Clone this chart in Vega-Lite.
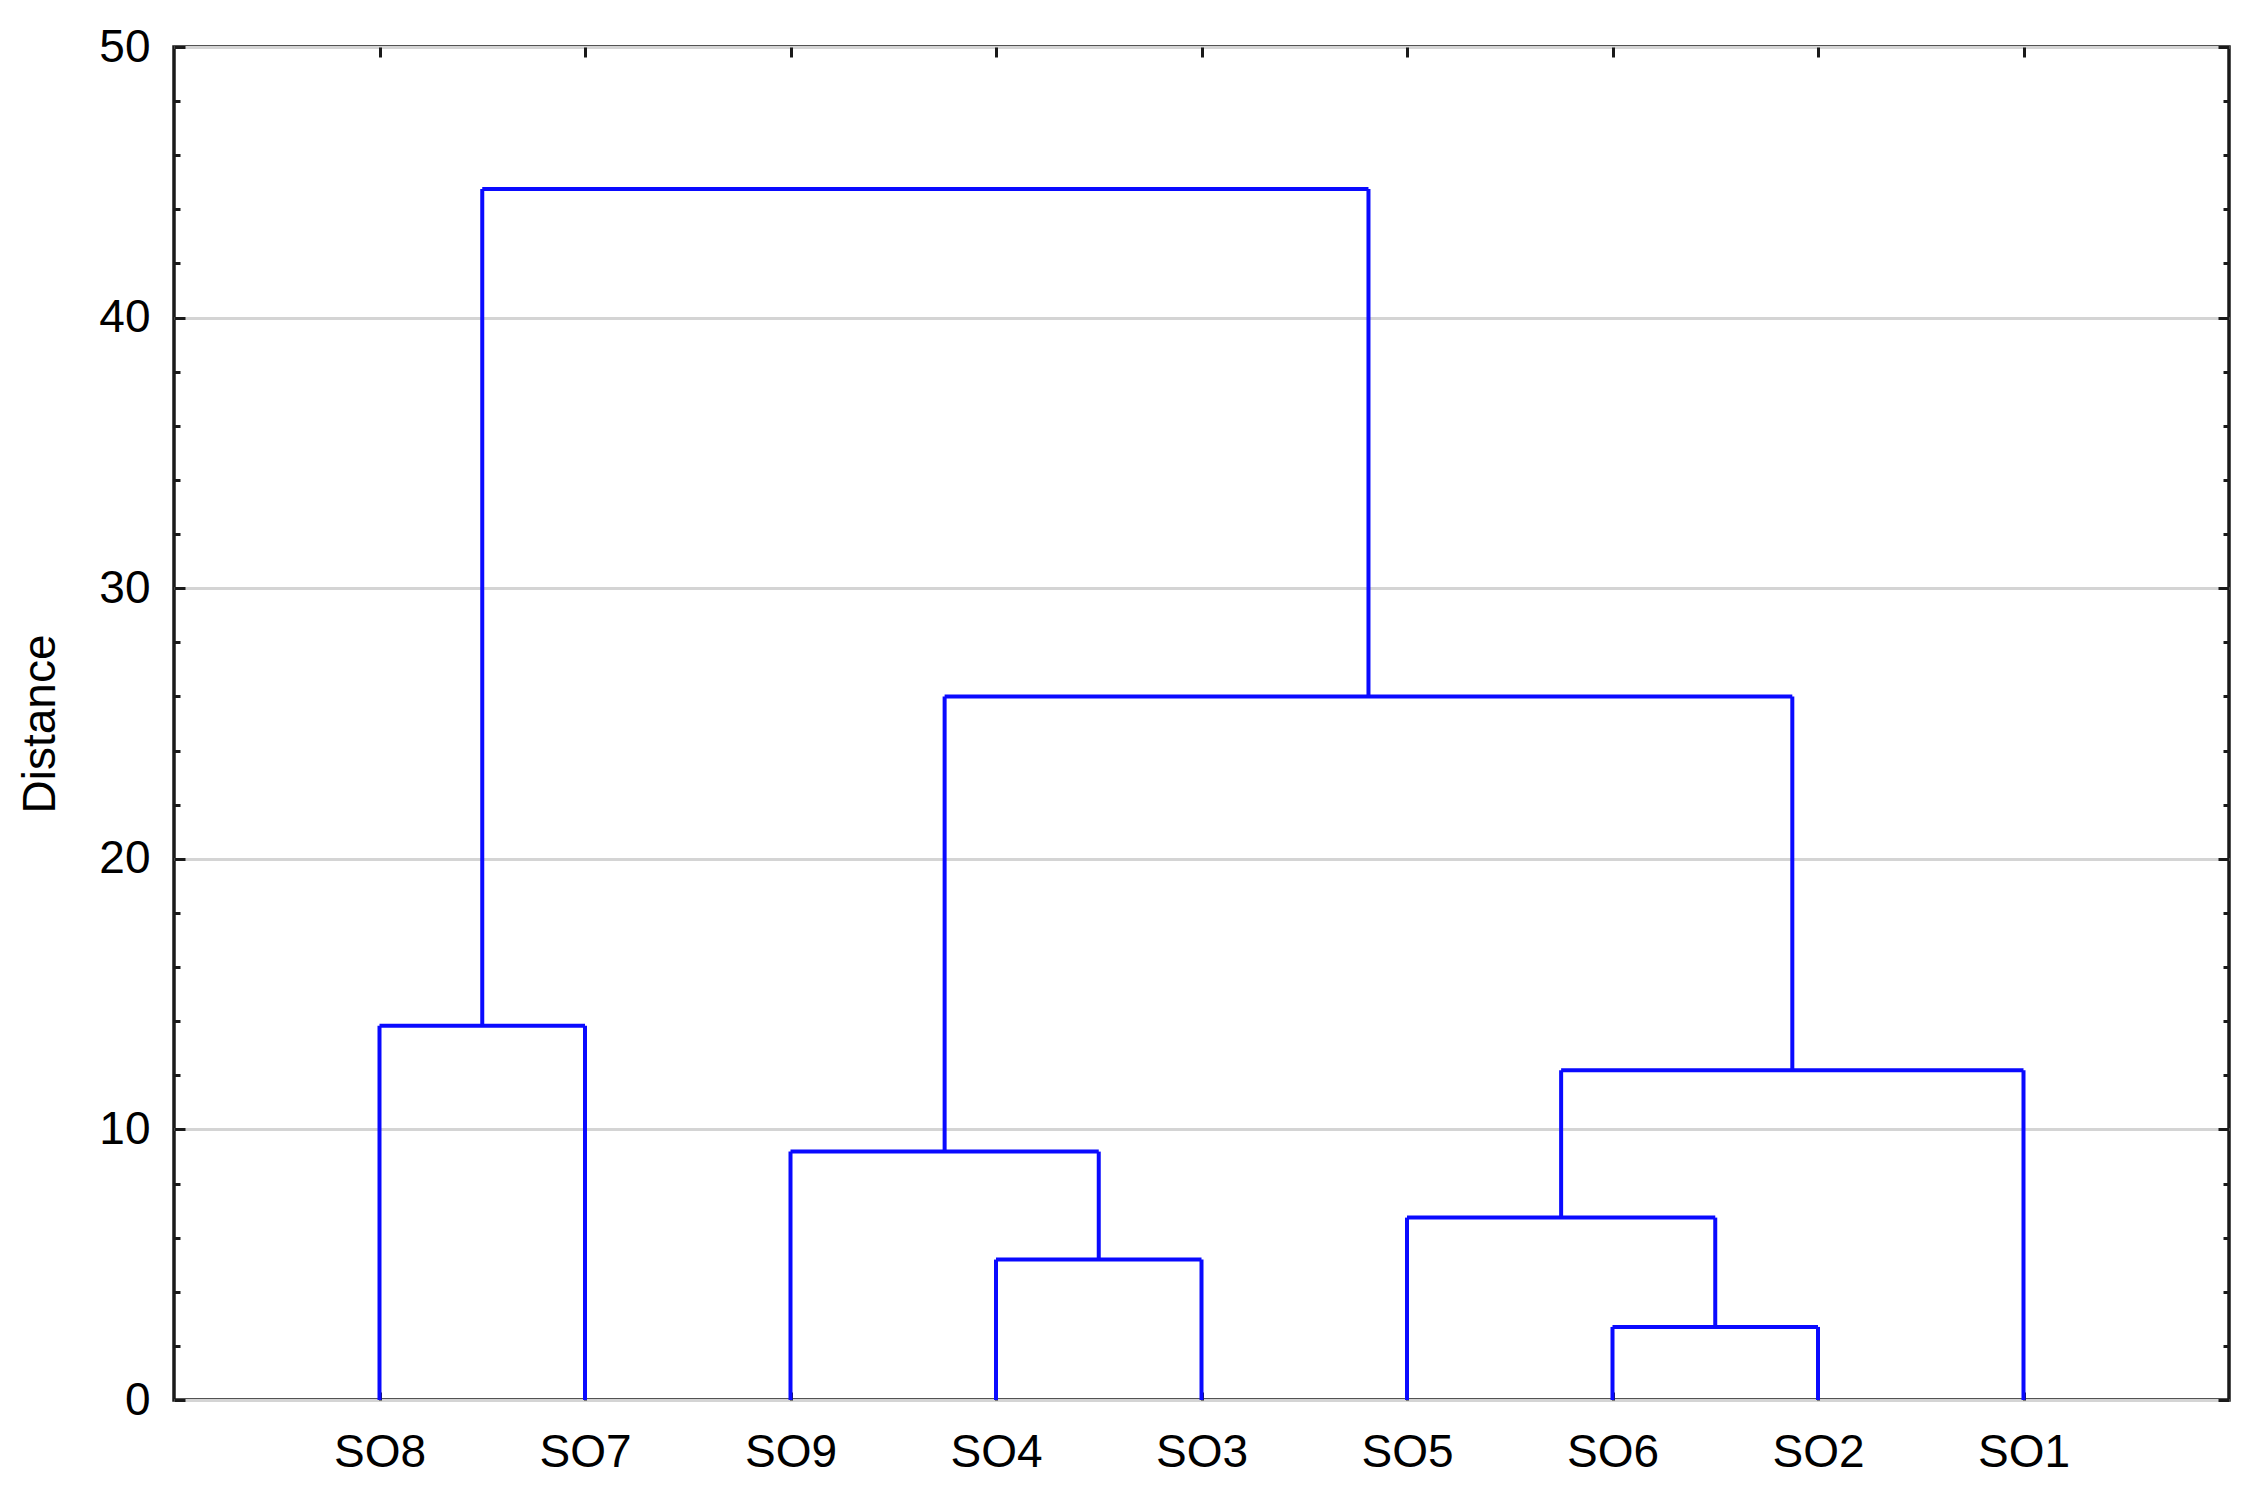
{
  "$schema": "https://vega.github.io/schema/vega-lite/v6.json",
  "width": 2055,
  "height": 1353,
  "autosize": {"type": "none"},
  "padding": {"left": 174, "top": 47, "right": 24, "bottom": 100},
  "background": "white",
  "config": {
    "view": {"stroke": "#1a1a1a", "strokeWidth": 3.5},
    "font": "Liberation Sans",
    "axis": {"labelFont": "Liberation Sans", "titleFont": "Liberation Sans", "labelColor": "#000000", "titleColor": "#000000", "tickColor": "#1a1a1a", "tickWidth": 3}
  },
  "data": {
    "values": [
      {"node": "A", "x": 1, "y": 0, "x2": 1, "y2": 13.83},
      {"node": "A", "x": 2, "y": 0, "x2": 2, "y2": 13.83},
      {"node": "A", "x": 1, "y": 13.83, "x2": 2, "y2": 13.83},
      {"node": "B", "x": 4, "y": 0, "x2": 4, "y2": 5.19},
      {"node": "B", "x": 5, "y": 0, "x2": 5, "y2": 5.19},
      {"node": "B", "x": 4, "y": 5.19, "x2": 5, "y2": 5.19},
      {"node": "C", "x": 3, "y": 0, "x2": 3, "y2": 9.18},
      {"node": "C", "x": 4.5, "y": 5.19, "x2": 4.5, "y2": 9.18},
      {"node": "C", "x": 3, "y": 9.18, "x2": 4.5, "y2": 9.18},
      {"node": "D", "x": 7, "y": 0, "x2": 7, "y2": 2.70},
      {"node": "D", "x": 8, "y": 0, "x2": 8, "y2": 2.70},
      {"node": "D", "x": 7, "y": 2.70, "x2": 8, "y2": 2.70},
      {"node": "E", "x": 6, "y": 0, "x2": 6, "y2": 6.74},
      {"node": "E", "x": 7.5, "y": 2.70, "x2": 7.5, "y2": 6.74},
      {"node": "E", "x": 6, "y": 6.74, "x2": 7.5, "y2": 6.74},
      {"node": "F", "x": 6.75, "y": 6.74, "x2": 6.75, "y2": 12.19},
      {"node": "F", "x": 9, "y": 0, "x2": 9, "y2": 12.19},
      {"node": "F", "x": 6.75, "y": 12.19, "x2": 9, "y2": 12.19},
      {"node": "G", "x": 3.75, "y": 9.18, "x2": 3.75, "y2": 26.0},
      {"node": "G", "x": 7.875, "y": 12.19, "x2": 7.875, "y2": 26.0},
      {"node": "G", "x": 3.75, "y": 26.0, "x2": 7.875, "y2": 26.0},
      {"node": "H", "x": 1.5, "y": 13.83, "x2": 1.5, "y2": 44.75},
      {"node": "H", "x": 5.8125, "y": 26.0, "x2": 5.8125, "y2": 44.75},
      {"node": "H", "x": 1.5, "y": 44.75, "x2": 5.8125, "y2": 44.75}
    ]
  },
  "resolve": {"axis": {"x": "independent", "y": "independent"}},
  "layer": [
    {
      "mark": {"type": "rule", "color": "#0a0aff", "strokeWidth": 4},
      "encoding": {
        "x": {"field": "x", "type": "quantitative", "scale": {"domain": [0, 10], "nice": false, "zero": false},
          "axis": {"orient": "bottom", "values": [1,2,3,4,5,6,7,8,9], "labelExpr": "['','SO8','SO7','SO9','SO4','SO3','SO5','SO6','SO2','SO1'][datum.value]", "ticks": false, "domain": false, "grid": false, "labelFontSize": 46, "labelPadding": 30, "title": null}},
        "x2": {"field": "x2"},
        "y": {"field": "y", "type": "quantitative", "scale": {"domain": [0, 50], "nice": false},
          "axis": {"orient": "left", "values": [0,10,20,30,40,50], "ticks": false, "domain": false, "grid": true, "gridColor": "#d4d4d4", "gridWidth": 3, "labelFontSize": 46, "labelPadding": 24, "title": "Distance", "titleFontSize": 46, "titleFontWeight": "normal", "titleAngle": -90, "titleX": -134, "titleY": 676.5, "titleAlign": "center", "titleBaseline": "middle"}},
        "y2": {"field": "y2"}
      }
    },
    {
      "mark": {"type": "rule", "strokeOpacity": 0},
      "encoding": {
        "x": {"field": "x", "type": "quantitative", "axis": {"orient": "bottom", "values": [1,2,3,4,5,6,7,8,9], "labels": false, "ticks": true, "tickSize": -8, "domain": false, "grid": false, "title": null}},
        "y": {"field": "y", "type": "quantitative", "axis": {"orient": "left", "values": [0,10,20,30,40,50], "labels": false, "ticks": true, "tickSize": -11, "domain": false, "grid": false, "title": null}}
      }
    },
    {
      "mark": {"type": "rule", "strokeOpacity": 0},
      "encoding": {
        "x": {"field": "x", "type": "quantitative", "axis": {"orient": "top", "values": [1,2,3,4,5,6,7,8,9], "labels": false, "ticks": true, "tickSize": -10, "domain": false, "grid": false, "title": null}},
        "y": {"field": "y", "type": "quantitative", "axis": {"orient": "left", "values": [2,4,6,8,12,14,16,18,22,24,26,28,32,34,36,38,42,44,46,48], "labels": false, "ticks": true, "tickSize": -6, "domain": false, "grid": false, "title": null}}
      }
    },
    {
      "mark": {"type": "rule", "strokeOpacity": 0},
      "encoding": {
        "x": {"field": "x", "type": "quantitative", "axis": null},
        "y": {"field": "y", "type": "quantitative", "axis": {"orient": "right", "values": [0,10,20,30,40,50], "labels": false, "ticks": true, "tickSize": -11, "domain": false, "grid": false, "title": null}}
      }
    },
    {
      "mark": {"type": "rule", "strokeOpacity": 0},
      "encoding": {
        "x": {"field": "x", "type": "quantitative", "axis": null},
        "y": {"field": "y", "type": "quantitative", "axis": {"orient": "right", "values": [2,4,6,8,12,14,16,18,22,24,26,28,32,34,36,38,42,44,46,48], "labels": false, "ticks": true, "tickSize": -6, "domain": false, "grid": false, "title": null}}
      }
    }
  ]
}
